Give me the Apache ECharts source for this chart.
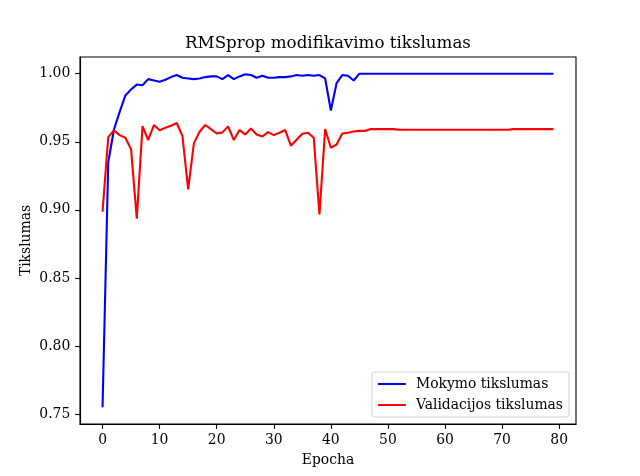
<!DOCTYPE html>
<html>
<head>
<meta charset="utf-8">
<script src="https://cdn.jsdelivr.net/npm/echarts@6/dist/echarts.min.js"></script>
<style>html,body{margin:0;padding:0;background:#fff}#c{width:640px;height:476px}</style>
</head>
<body>
<div id="c"></div>
<script>
const titleText = "RMSprop modifikavimo tikslumas";
const xName = "Epocha";
const yName = "Tikslumas";
const seriesNames = ["Mokymo tikslumas", "Validacijos tikslumas"];
const epochs = [0,1,2,3,4,5,6,7,8,9,10,11,12,13,14,15,16,17,18,19,20,21,22,23,24,25,26,27,28,29,30,31,32,33,34,35,36,37,38,39,40,41,42,43,44,45,46,47,48,49,50,51,52,53,54,55,56,57,58,59,60,61,62,63,64,65,66,67,68,69,70,71,72,73,74,75,76,77,78,79];
const trainAcc = [0.755,0.935,0.959,0.972,0.984,0.9885,0.992,0.9915,0.996,0.995,
  0.994,0.9955,0.9975,0.999,0.997,0.9965,0.996,0.9965,0.9975,0.998,
  0.998,0.996,0.999,0.996,0.998,0.9995,0.999,0.997,0.9985,0.997,
  0.997,0.9975,0.9975,0.998,0.999,0.9985,0.999,0.9985,0.999,0.9965,
  0.973,0.993,0.999,0.9985,0.995,1.0,1.0,1.0,1.0,1.0,
  1.0,1.0,1.0,1.0,1.0,1.0,1.0,1.0,1.0,1.0,
  1.0,1.0,1.0,1.0,1.0,1.0,1.0,1.0,1.0,1.0,
  1.0,1.0,1.0,1.0,1.0,1.0,1.0,1.0,1.0,1.0];
const valAcc = [0.8986,0.9534,0.9584,0.9549,0.953,0.9444,0.8936,0.9615,0.9513,0.9623,
  0.9584,0.9603,0.9618,0.9638,0.9542,0.915,0.9488,0.9574,0.9623,0.9593,
  0.9561,0.9569,0.9613,0.9513,0.9586,0.9554,0.9598,0.9554,0.9539,0.9571,
  0.9549,0.9566,0.9586,0.9471,0.9515,0.9559,0.9566,0.953,0.8966,0.9593,
  0.9456,0.948,0.9561,0.9566,0.9576,0.958,0.958,0.9593,0.9593,0.9593,
  0.9593,0.9593,0.9588,0.9588,0.9588,0.9588,0.9588,0.9588,0.9588,0.9588,
  0.9588,0.9588,0.9588,0.9588,0.9588,0.9588,0.9588,0.9588,0.9588,0.9588,
  0.9588,0.9588,0.9593,0.9593,0.9593,0.9593,0.9593,0.9593,0.9593,0.9593];
const xTicks = [0,10,20,30,40,50,60,70,80];
const yTicks = [0.75,0.80,0.85,0.90,0.95,1.00];
const seriesColors = ["#0000ff", "#ff0000"];

const FONT = "DejaVu Serif";
const chart = echarts.init(document.getElementById('c'), null, {renderer: 'canvas'});
const pair = (ys) => epochs.map((x, i) => [x, ys[i]]);
const xMin = -3.95, xMax = 82.95;
const yMin = 0.74275, yMax = 1.01225;
chart.setOption({
  animation: false,
  backgroundColor: '#ffffff',
  title: {
    text: titleText, left: 180, top: 30,
    textStyle: {fontFamily: FONT, fontSize: 16.7, fontWeight: 'normal', color: '#000'}
  },
  grid: {left: 80, right: 64, top: 57, bottom: 52, show: true, borderColor: '#000', borderWidth: 1.1, backgroundColor: 'transparent'},
  legend: {
    orient: 'vertical', right: 71, bottom: 59,
    data: seriesNames,
    icon: 'rect', itemWidth: 28, itemHeight: 2, itemGap: 7,
    padding: [5, 6, 5, 6],
    backgroundColor: '#fff', borderColor: '#d0d0d0', borderWidth: 1, borderRadius: 3,
    textStyle: {fontFamily: FONT, fontSize: 13.9, color: '#000', lineHeight: 14, padding: [0, 0, 0, 5]}
  },
  xAxis: {
    type: 'value', min: xMin, max: xMax,
    name: xName, nameLocation: 'middle', nameGap: 29, nameMoveOverlap: false,
    nameTextStyle: {fontFamily: FONT, fontSize: 13.9, color: '#000'},
    axisLine: {show: true, onZero: false, lineStyle: {color: '#000', width: 1.1}},
    axisTick: {show: true, length: 4.9, lineStyle: {color: '#000', width: 1.1}, customValues: xTicks},
    axisLabel: {fontFamily: FONT, fontSize: 13.9, color: '#000', margin: 9.7, customValues: xTicks, formatter: v => String(v)},
    splitLine: {show: false}
  },
  yAxis: {
    type: 'value', min: yMin, max: yMax,
    name: yName, nameLocation: 'middle', nameGap: 47, nameRotate: 90, nameMoveOverlap: false,
    nameTextStyle: {fontFamily: FONT, fontSize: 13.9, color: '#000'},
    axisLine: {show: true, onZero: false, lineStyle: {color: '#000', width: 1.1}},
    axisTick: {show: true, length: 4.9, lineStyle: {color: '#000', width: 1.1}, customValues: yTicks},
    axisLabel: {fontFamily: FONT, fontSize: 13.9, color: '#000', margin: 9.7, customValues: yTicks, formatter: v => v.toFixed(2)},
    splitLine: {show: false}
  },
  series: [
    {name: seriesNames[0], type: 'line', data: pair(trainAcc), showSymbol: false, symbol: 'none',
     lineStyle: {color: seriesColors[0], width: 2.1}, itemStyle: {color: seriesColors[0]}, z: 3},
    {name: seriesNames[1], type: 'line', data: pair(valAcc), showSymbol: false, symbol: 'none',
     lineStyle: {color: seriesColors[1], width: 2.1}, itemStyle: {color: seriesColors[1]}, z: 4}
  ]
});
</script>
</body>
</html>
